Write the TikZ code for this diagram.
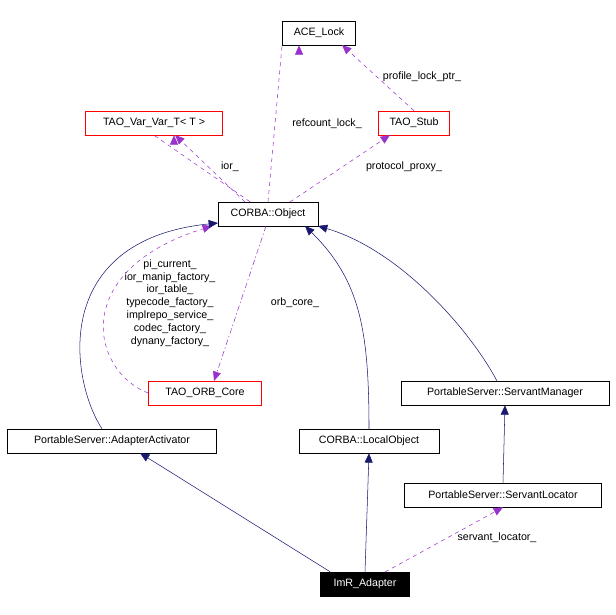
\documentclass[tikz,border=0pt]{standalone}
\usepackage{fontspec}
\setmainfont{Liberation Sans}
\usetikzlibrary{arrows.meta}
\definecolor{navy}{RGB}{25,25,112}
\definecolor{purp}{RGB}{153,50,204}
\begin{document}
\begin{tikzpicture}[x=0.75pt,y=-0.75pt,
  box/.style={draw=black,fill=white,inner sep=0pt,minimum height=18pt,font=\fontsize{8}{9}\selectfont},
  red/.style={box,draw=red},
  inh/.style={draw=navy,-{Triangle[length=7pt,width=6pt]}},
  use/.style={draw=purp,dashed,-{Triangle[length=7pt,width=6pt]}},
  lab/.style={font=\fontsize{8}{9.6}\selectfont,align=center,inner sep=1pt}]
\useasboundingbox (0,0) rectangle (616,614);
\node[box,minimum width=55pt] (ace) at (319,33) {ACE\_Lock};
\node[red,minimum width=103pt] (var) at (154,123) {TAO\_Var\_Var\_T< T >};
\node[red,minimum width=53pt] (stub) at (414,123) {TAO\_Stub};
\node[box,minimum width=75pt] (obj) at (268,214) {CORBA::Object};
\node[red,minimum width=85pt] (orb) at (205,393) {TAO\_ORB\_Core};
\node[box,minimum width=156pt] (sm) at (505,393) {PortableServer::ServantManager};
\node[box,minimum width=157pt] (aa) at (112,441) {PortableServer::AdapterActivator};
\node[box,minimum width=105pt] (lo) at (369,441) {CORBA::LocalObject};
\node[box,minimum width=148pt] (sl) at (503,495) {PortableServer::ServantLocator};
\node[box,fill=black,text=white,minimum width=67pt] (imr) at (365,584) {ImR\_Adapter};

\draw[use] (obj.north) -- (ace.south west) ++(17,0) coordinate (x1);
\draw[use] (stub.north) -- (342,45);
\node[lab] at (327,124) {refcount\_lock\_};
\node[lab] at (422,77) {profile\_lock\_ptr\_};
\draw[use] (obj.north) ++(-18,0) -- (var.south) ++(20,0);
\draw[use] (245,202) -- (175,135);
\node[lab] at (230,167) {ior\_};
\draw[use] (290,202) -- (390,135);
\node[lab] at (404,167) {protocol\_proxy\_};
\draw[use] (orb.west) .. controls (90,370) and (70,270) .. (212,226);
\node[lab] at (170,303) {pi\_current\_\\ior\_manip\_factory\_\\ior\_table\_\\typecode\_factory\_\\implrepo\_service\_\\codec\_factory\_\\dynany\_factory\_};
\draw[use,dash pattern=on 4pt off 2pt on 1pt off 2pt] (266,226) -- (214,381);
\node[lab] at (295,303) {orb\_core\_};
\draw[inh] (aa.north) ++(-10,0) .. controls (70,380) and (50,240) .. (218,223);
\draw[inh] (369,429) .. controls (369,330) and (360,280) .. (305,226);
\draw[inh] (497,381) .. controls (470,330) and (400,250) .. (318,226);
\draw[inh] (sl.north) -- (sm.south);
\draw[inh] (imr.north west) ++(10,0) -- (140,453);
\draw[inh] (imr.north) -- (lo.south);
\draw[use] (385,572) -- (sl.south);
\node[lab] at (497,538) {servant\_locator\_};
\end{tikzpicture}
\end{document}
